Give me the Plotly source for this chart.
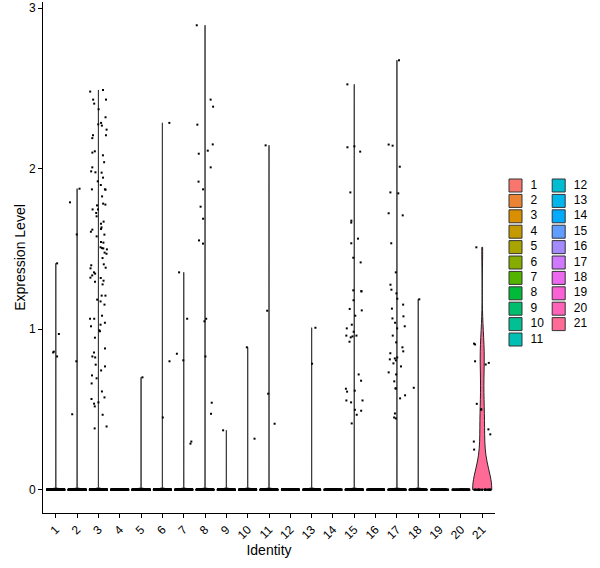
import numpy as np
import plotly.graph_objects as go

# ---------------- data ----------------
clusters = [str(i) for i in range(1, 22)]

# number of cells with zero expression in each cluster (drawn as the black band at 0)
zero_counts = [400, 380, 320, 330, 300, 280, 260, 250, 230, 210, 200,
               190, 170, 160, 150, 140, 130, 110, 90, 70, 22]

expr_c1 = [1.41, 0.97, 0.86, 0.855, 0.83]
expr_c2 = [1.875, 1.79, 1.59, 0.80, 0.47]
expr_c3 = [2.49, 2.48, 2.43, 2.43, 2.405, 2.37, 2.32, 2.285, 2.276, 2.268, 2.243,
           2.208, 2.208, 2.19, 2.108, 2.10, 2.083, 2.04, 2.008, 1.983, 1.977, 1.975,
           1.944, 1.921, 1.898, 1.869, 1.871, 1.871, 1.827, 1.782, 1.776, 1.771,
           1.746, 1.746, 1.724, 1.703, 1.67, 1.657, 1.634, 1.624, 1.62, 1.607, 1.578,
           1.589, 1.543, 1.539, 1.51, 1.503, 1.497, 1.505, 1.477, 1.47, 1.443, 1.404,
           1.398, 1.379, 1.383, 1.354, 1.346, 1.335, 1.319, 1.321, 1.302, 1.296,
           1.279, 1.209, 1.209, 1.184, 1.173, 1.153, 1.084, 1.065, 1.065, 1.04,
           1.028, 1.018, 0.993, 0.987, 0.947, 0.88, 0.855, 0.83, 0.824, 0.779,
           0.768, 0.743, 0.712, 0.694, 0.662, 0.612, 0.575, 0.565, 0.544, 0.536,
           0.519, 0.467, 0.394, 0.382]
expr_c4 = []
expr_c5 = [0.70]
expr_c6 = [2.285, 0.80, 0.45]
expr_c7 = [1.354, 1.065, 0.847, 0.806, 0.30, 0.287]
expr_c8 = [2.893, 2.43, 2.386, 2.274, 2.151, 2.112, 2.093, 2.008, 1.919, 1.871,
           1.763, 1.688, 1.553, 1.533, 1.065, 1.049, 0.83, 0.542, 0.473]
expr_c9 = [0.37]
expr_c10 = [0.887, 0.318]
expr_c11 = [2.145, 1.115, 0.598, 0.411]
expr_c12 = []
expr_c13 = [1.009, 0.785]
expr_c14 = []
expr_c15 = [2.525, 2.139, 2.133, 2.106, 1.852, 1.676, 1.664, 1.564, 1.535, 1.445,
            1.416, 1.242, 1.236, 1.236, 1.18, 1.126, 1.117, 1.084, 1.028, 1.005,
            0.984, 0.96, 0.96, 0.955, 0.949, 0.922, 0.718, 0.679, 0.629, 0.617,
            0.611, 0.556, 0.556, 0.544, 0.498, 0.492, 0.467, 0.413]
expr_c16 = []
expr_c17 = [2.675, 2.15, 2.143, 2.012, 1.852, 1.846, 1.722, 1.709, 1.535, 1.354,
            1.277, 1.246, 1.223, 1.19, 1.153, 1.128, 1.08, 1.067, 1.04, 1.018,
            1.005, 0.96, 0.918, 0.887, 0.862, 0.85, 0.824, 0.818, 0.812, 0.806,
            0.787, 0.768, 0.731, 0.718, 0.675, 0.631, 0.631, 0.588, 0.569, 0.475,
            0.45, 0.444]
expr_c18 = [1.186, 0.635]
expr_c19 = []
expr_c20 = []
expr_c21 = [1.51, 0.91, 0.905, 0.80, 0.79, 0.78, 0.535, 0.50, 0.50, 0.376, 0.345,
            0.30, 0.25]

nonzero = [expr_c1, expr_c2, expr_c3, expr_c4, expr_c5, expr_c6, expr_c7,
           expr_c8, expr_c9, expr_c10, expr_c11, expr_c12, expr_c13, expr_c14,
           expr_c15, expr_c16, expr_c17, expr_c18, expr_c19, expr_c20, expr_c21]

# kernel bandwidths (style of the violin smoothing)
bandwidths = [0.005] * 20 + [0.13]


# ---------------- ggplot hue palette ----------------
def hcl_to_hex(h, c=100.0, l=65.0):
    Xn, Yn, Zn = 95.047, 100.0, 108.883
    Y = Yn * (((l + 16) / 116) ** 3 if l > 7.999592 else l / 903.3)
    u = c * np.cos(np.radians(h))
    v = c * np.sin(np.radians(h))
    t = Xn + Yn + Zn
    x = Xn / t
    y = Yn / t
    un = 2 * x / (6 * y - x + 1.5)
    vn = 4.5 * y / (6 * y - x + 1.5)
    up = u / (13 * l) + un
    vp = v / (13 * l) + vn
    X = 9.0 * Y * up / (4 * vp)
    Z = -X / 3 - 5 * Y + 3 * Y / vp
    X, Y, Z = X / 100, Y / 100, Z / 100
    r = 3.240479 * X - 1.537150 * Y - 0.498535 * Z
    g = -0.969256 * X + 1.875992 * Y + 0.041556 * Z
    b = 0.055648 * X - 0.204043 * Y + 1.057311 * Z

    def gam(cv):
        cv = 1.055 * cv ** (1 / 2.4) - 0.055 if cv > 0.00304 else 12.92 * cv
        return int(round(255 * min(max(cv, 0), 1)))
    return "#%02X%02X%02X" % (gam(r), gam(g), gam(b))


n = len(clusters)
hues = np.linspace(15, 375 - 360 / n, n)
palette = [hcl_to_hex(h) for h in hues]

FONT = "Liberation Sans, Arial, sans-serif"

fig = go.Figure()

# violins (clusters with only zeros collapse to the band at 0, drawn by the points)
for i, vals in enumerate(nonzero):
    if len(vals) == 0:
        continue
    yv = [0.0] * zero_counts[i] + list(vals)
    fig.add_trace(go.Violin(
        y=yv, x0=i + 1, name=clusters[i],
        width=0.9, scalemode="width", spanmode="hard",
        bandwidth=bandwidths[i], points=False,
        fillcolor=palette[i], line=dict(color="#222222", width=1),
        opacity=1, hoverinfo="skip", showlegend=False,
        box=dict(visible=False), meanline=dict(visible=False),
    ))

# jittered points (geom_jitter-like, width 0.4)
rng = np.random.default_rng(11)
px, py = [], []
for i, vals in enumerate(nonzero):
    yv = [0.0] * zero_counts[i] + list(vals)
    jit = rng.uniform(-0.4, 0.4, len(yv))
    px.extend(list(i + 1 + jit))
    py.extend(yv)
fig.add_trace(go.Scatter(
    x=px, y=py, mode="markers",
    marker=dict(symbol="square", size=2, color="black", line=dict(width=0)),
    hoverinfo="skip", showlegend=False,
))

# legend drawn as a small auxiliary subplot (two columns, column-major)
leg_col = [i // 11 for i in range(n)]
leg_row = [i % 11 for i in range(n)]
fig.add_trace(go.Scatter(
    x=leg_col, y=leg_row, mode="markers", xaxis="x2", yaxis="y2",
    marker=dict(symbol="square", size=13, color=palette,
                line=dict(color="#333333", width=1)),
    hoverinfo="skip", showlegend=False,
))
fig.add_trace(go.Scatter(
    x=[c + 0.35 for c in leg_col], y=leg_row, mode="text", xaxis="x2", yaxis="y2",
    text=clusters, textposition="middle right",
    textfont=dict(family=FONT, size=12, color="black"),
    hoverinfo="skip", showlegend=False,
))

fig.update_layout(
    width=600, height=568,
    margin=dict(l=43, r=5, t=2, b=55),
    paper_bgcolor="white", plot_bgcolor="white",
    violinmode="overlay",
    font=dict(family=FONT, size=12, color="black"),
    xaxis=dict(
        domain=[0, 0.81884], type="linear", range=[0.4, 21.6],
        tickvals=list(range(1, n + 1)), ticktext=clusters, tickangle=-45,
        showline=True, linecolor="black", linewidth=1, mirror=False,
        ticks="outside", ticklen=4, tickcolor="black", tickwidth=1,
        showgrid=False, zeroline=False,
        tickfont=dict(family=FONT, size=12, color="black"),
        title=dict(text="Identity", font=dict(family=FONT, size=14, color="black"),
                   standoff=2),
    ),
    yaxis=dict(
        domain=[0, 1], range=[-0.145, 3.038],
        tickvals=[0, 1, 2, 3], ticktext=["0", "1", "2", "3"],
        showline=True, linecolor="black", linewidth=1,
        ticks="outside", ticklen=4, tickcolor="black", tickwidth=1,
        showgrid=False, zeroline=False,
        tickfont=dict(family=FONT, size=12, color="black"),
        title=dict(text="Expression Level",
                   font=dict(family=FONT, size=14, color="black"), standoff=0),
    ),
    xaxis2=dict(domain=[0.82790, 1.0], range=[-0.3588, 1.8403], anchor="y2",
                visible=False, fixedrange=True),
    yaxis2=dict(domain=[0, 1], range=[21.266, -11.916], anchor="x2",
                visible=False, fixedrange=True),
)

fig.write_html("out.html")
